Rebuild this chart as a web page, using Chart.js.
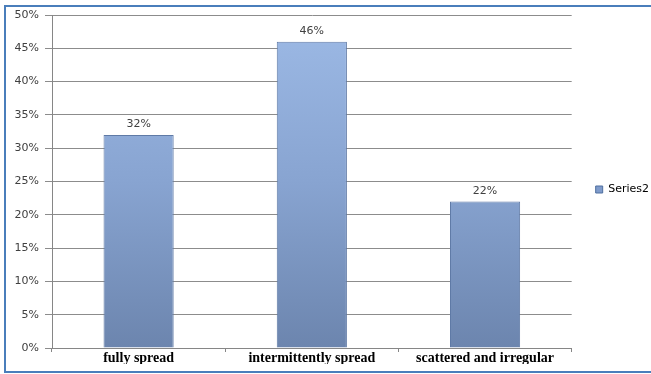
<!DOCTYPE html>
<html>
<head>
<meta charset="utf-8">
<script src="https://cdn.jsdelivr.net/npm/chart.js@4/dist/chart.umd.min.js"></script>
<style>
  html, body { margin: 0; padding: 0; background: #fff; }
  #wrap { width: 651px; height: 374px; }
</style>
</head>
<body>
<div id="wrap"><canvas id="chart" width="651" height="374"></canvas></div>
<script>
// chart data
const categories = ['fully spread', 'intermittently spread', 'scattered and irregular'];
const series2 = [32, 46, 22];
const yTicks = [0, 5, 10, 15, 20, 25, 30, 35, 40, 45, 50];

const tickFont = { family: 'DejaVu Sans', size: 11 };

// gradient fill for the bars, light at the top, darker at the bottom
function barFill(ctx) {
    const chart = ctx.chart;
    const area = chart.chartArea;
    if (!area) return '#8aa6d3';
    const g = chart.ctx.createLinearGradient(0, area.top, 0, area.bottom);
    g.addColorStop(0, '#9dbae6');
    g.addColorStop(0.5, '#88a4d1');
    g.addColorStop(1, '#6c85ae');
    return g;
}

// outer frame like the excel chart border
const framePlugin = {
    id: 'frame',
    beforeDraw(chart) {
        const c = chart.ctx;
        c.save();
        c.fillStyle = '#fff';
        c.fillRect(0, 0, chart.width, chart.height);
        c.strokeStyle = '#4a7ebb';
        c.lineWidth = 2;
        c.strokeRect(5, 6, chart.width + 10, chart.height - 8);
        c.restore();
    }
};

// push the legend a little further right, as in the excel layout
const legendShift = {
    id: 'legendShift',
    afterLayout(chart) {
        if (chart.legend) {
            chart.legend.left += 14;
            chart.legend.right += 14;
        }
    }
};

// value labels on top of each bar
const valueLabels = {
    id: 'valueLabels',
    afterDatasetsDraw(chart) {
        const c = chart.ctx;
        const meta = chart.getDatasetMeta(0);
        c.save();
        c.font = '11px "DejaVu Sans"';
        c.fillStyle = '#404040';
        c.textAlign = 'center';
        c.textBaseline = 'bottom';
        meta.data.forEach((bar, i) => {
            c.fillText(series2[i] + '%', bar.x, bar.y - 5);
        });
        c.restore();
    }
};

new Chart(document.getElementById('chart'), {
    type: 'bar',
    data: {
        labels: categories,
        datasets: [{
            label: 'Series2',
            data: series2,
            backgroundColor: barFill,
            borderColor: '#5f7aa6',
            borderWidth: 1,
            categoryPercentage: 1,
            barPercentage: 0.405
        }]
    },
    options: {
        responsive: false,
        animation: false,
        layout: { padding: { left: 6, top: 15, right: 6, bottom: 10 } },
        plugins: {
            legend: {
                position: 'right',
                labels: {
                    boxWidth: 7,
                    boxHeight: 7,
                    padding: 10,
                    color: '#404040',
                    font: { family: 'DejaVu Sans', size: 11 },
                    generateLabels(chart) {
                        return [{
                            text: chart.data.datasets[0].label,
                            fillStyle: '#7f9bcb',
                            strokeStyle: '#4f6f9f',
                            lineWidth: 1,
                            datasetIndex: 0
                        }];
                    }
                }
            },
            tooltip: { enabled: false }
        },
        scales: {
            x: {
                grid: {
                    drawOnChartArea: false,
                    drawTicks: true,
                    tickLength: 4,
                    color: '#868686'
                },
                border: { color: '#868686', width: 1 },
                ticks: {
                    color: '#000',
                    padding: -1,
                    font: { family: 'Liberation Serif', size: 14, weight: 'bold', lineHeight: 1 }
                }
            },
            y: {
                min: 0,
                max: 50,
                afterFit(scale) { scale.width = 46; },
                afterBuildTicks(scale) { scale.ticks = yTicks.map(v => ({ value: v })); },
                grid: { color: '#8c8c8c', tickLength: 7, lineWidth: 1 },
                border: { color: '#868686', width: 1 },
                ticks: {
                    color: '#404040',
                    padding: 6,
                    font: tickFont,
                    callback: v => v + '%'
                }
            }
        }
    },
    plugins: [framePlugin, legendShift, valueLabels]
});
</script>
</body>
</html>
